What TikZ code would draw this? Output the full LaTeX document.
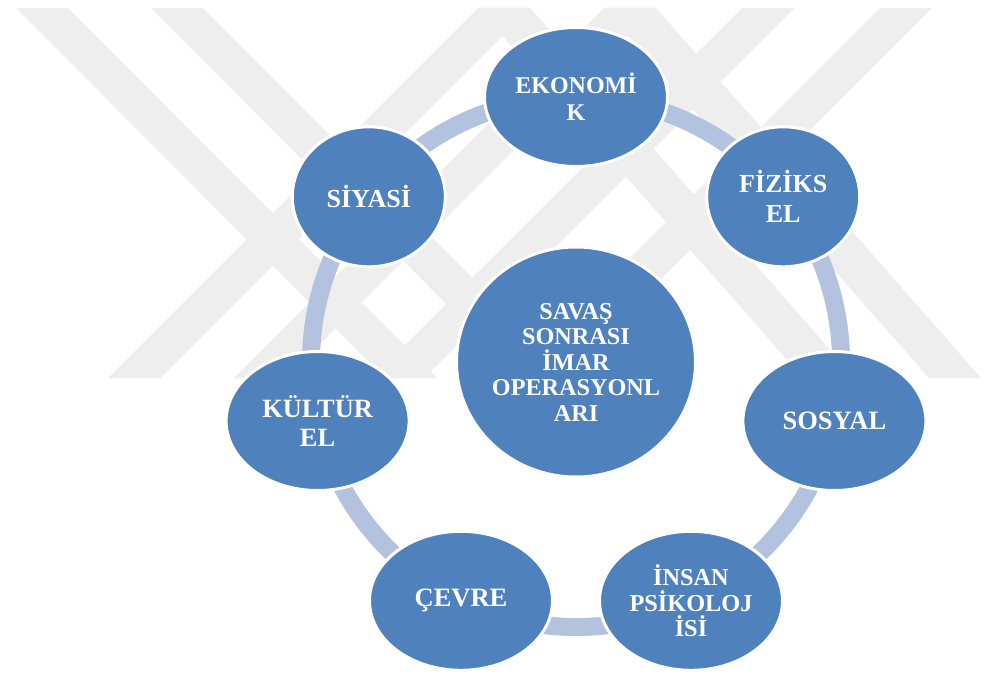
\documentclass[tikz,border=0pt]{standalone}
\usepackage{fontspec}
\setmainfont{Liberation Serif}
\usetikzlibrary{shapes.geometric}
\definecolor{nodeblue}{RGB}{79,129,189}
\definecolor{arcblue}{RGB}{179,194,222}
\definecolor{wmgray}{RGB}{238,238,238}
\pgfdeclarelayer{wm}
\pgfdeclarelayer{bg}
\pgfsetlayers{wm,bg,main}
\begin{document}
\begin{tikzpicture}[x=1pt,y=-1pt,
  petal/.style={ellipse, fill=nodeblue, draw=white, line width=3pt, inner sep=0pt,
    text=white, align=center},
  wide/.style={petal, minimum width=183pt, minimum height=139pt},
  narrow/.style={petal, minimum width=153pt, minimum height=140pt},
  hub/.style={petal, minimum width=239pt, minimum height=230pt},
  link/.style={draw=arcblue, line width=18pt},
  band/.style={fill=wmgray}]
\useasboundingbox (0,0) rectangle (986,674);

% nodes
\node[hub, font=\bfseries\fontsize{24.2}{25.5}\selectfont] (core) at (576,362)
  {SAVAŞ\\SONRASI\\İMAR\\OPERASYONL\\ARI};
\node[wide, font=\bfseries\fontsize{24}{27}\selectfont] (eko) at (576,97) {EKONOMİ\\K};
\node[narrow, font=\bfseries\fontsize{26}{30}\selectfont] (fiz) at (783.2,196.8) {FİZİKS\\EL};
\node[wide, font=\bfseries\fontsize{26.5}{29}\selectfont] (sos) at (834.4,421) {SOSYAL};
\node[wide, font=\bfseries\fontsize{24.3}{25.5}\selectfont] (ins) at (691,600.8) {İNSAN\\PSİKOLOJ\\İSİ};
\node[wide, font=\bfseries\fontsize{26.5}{29}\selectfont] (cev) at (461,600.8) {ÇEVRE};
\node[wide, font=\bfseries\fontsize{26.4}{29}\selectfont] (kul) at (317.6,421) {KÜLTÜR\\EL};
\node[narrow, font=\bfseries\fontsize{26}{29}\selectfont] (siy) at (368.8,196.8) {SİYASİ};

% connectors along the cycle
\begin{pgfonlayer}{bg}
\draw[link] (eko.center) arc[start angle=90, end angle=38.571, radius=265pt];
\draw[link] (fiz.center) arc[start angle=38.571, end angle=-12.857, radius=265pt];
\draw[link] (sos.center) arc[start angle=-12.857, end angle=-64.286, radius=265pt];
\draw[link] (ins.center) arc[start angle=-64.286, end angle=-115.714, radius=265pt];
\draw[link] (cev.center) arc[start angle=-115.714, end angle=-167.143, radius=265pt];
\draw[link] (kul.center) arc[start angle=-167.143, end angle=-218.571, radius=265pt];
\draw[link] (siy.center) arc[start angle=141.429, end angle=90, radius=265pt];
\end{pgfonlayer}

% watermark
\begin{pgfonlayer}{wm}
\fill[white] (0,0) rectangle (986,674);
\begin{scope}
\clip (0,8) rectangle (986,378);
\foreach \a/\d in {16/369,151/369,478/325,604/325}
  \fill[band] (\a,8) -- ++(52,0) -- ++(\d,370) -- ++(-52,0) -- cycle;
\foreach \b in {478,604,742,880}
  \fill[band] (\b,8) -- ++(52,0) -- ++(-370,370) -- ++(-52,0) -- cycle;
\end{scope}
\end{pgfonlayer}
\end{tikzpicture}
\end{document}
